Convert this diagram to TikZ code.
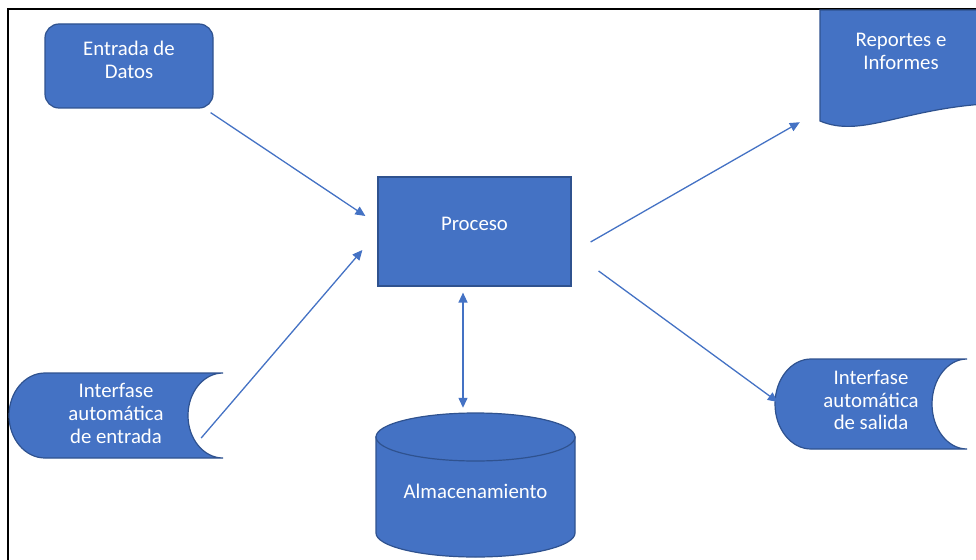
\documentclass[tikz,border=0pt]{standalone}
\usepackage{fontspec}
\setmainfont{Carlito}
\usetikzlibrary{arrows.meta}
\definecolor{ofblue}{HTML}{4472C4}
\definecolor{ofdark}{HTML}{2F528F}
\tikzset{
	box/.style={fill=ofblue, draw=ofdark, line width=1.2pt},
	txt/.style={text=white, align=center, inner sep=0pt, font=\fontsize{20.8}{22.8}\selectfont},
	link/.style={ofblue, line width=1.3pt, -{Triangle[length=10pt,width=9pt]}},
	twolink/.style={link, {Triangle[length=10pt,width=9pt]}-{Triangle[length=10pt,width=9pt]}}
}
\begin{document}
\begin{tikzpicture}[x=1pt,y=-1pt]
	\useasboundingbox (0,0) rectangle (976,559);
	\draw[line width=2.5pt, line join=miter] (8,560) -- (8,9) -- (977,9);
	\filldraw[box] (820,10) -- (984,10) -- (984,104) .. controls (900,110) and (860,138) .. (820,121) -- cycle;
	\foreach \l/\t/\r/\b in {9/373/223/458,
							775/359/967/449}
		\filldraw[box] (\l+36,\t) -- (\r,\t) .. controls (\r-19.3,\t) and (\r-35,{\t+0.224*(\b-\t)}) .. (\r-35,{(\t+\b)/2}) .. controls (\r-35,{\b-0.224*(\b-\t)}) and (\r-19.3,\b) .. (\r,\b) -- (\l+36,\b) .. controls (\l+16.1,\b) and (\l,{\b-0.224*(\b-\t)}) .. (\l,{(\t+\b)/2}) .. controls (\l,{\t+0.224*(\b-\t)}) and (\l+16.1,\t) .. (\l+36,\t) -- cycle;
	\filldraw[box] (376,437) -- (376,533) .. controls (376,546.3) and (420.5,557) .. (475.5,557) .. controls (530.5,557) and (575,546.3) .. (575,533) -- (575,437) -- cycle;
	\filldraw[box] (475.5,437) ellipse [x radius=99.5, y radius=24];
	\node[box, txt, rounded corners=14pt, minimum width=168pt, minimum height=84pt, text depth=13pt] (entrada) at (129,66) {Entrada de\\Datos};
	\node[box, txt, minimum width=193pt, minimum height=109pt, text depth=15pt] (proceso) at (474.5,231.5) {Proceso};
	\node[txt, minimum width=162pt, minimum height=112pt, text depth=30pt] (reportes) at (901,66) {Reportes e\\Informes};
	\node[txt, minimum width=214pt, minimum height=85pt, text depth=4pt] (entint) at (116,415.5) {Interfase\\automática\\de entrada};
	\node[txt, minimum width=192pt, minimum height=90pt, text depth=8pt] (salint) at (871,404) {Interfase\\automática\\de salida};
	\node[txt, minimum width=199pt, minimum height=144pt, text height=28pt] (almac) at (475.5,485) {Almacenamiento};
	\draw[link] ([shift={(-3,4)}]entrada.south east) -- ([shift={(-12,-15.5)}]proceso.west);
	\draw[link] ([shift={(-22,22.5)}]entint.east) -- ([shift={(-15,18.5)}]proceso.west);
	\draw[link] ([shift={(19,10.5)}]proceso.east) -- ([shift={(-20,0)}]reportes.south west);
	\draw[link] ([shift={(27,39.5)}]proceso.east) -- ([shift={(3,-2)}]salint.west);
	\draw[twolink] ([shift={(-11.5,6)}]proceso.south) -- ([shift={(-12.5,-5)}]almac.north);
\end{tikzpicture}
\end{document}
